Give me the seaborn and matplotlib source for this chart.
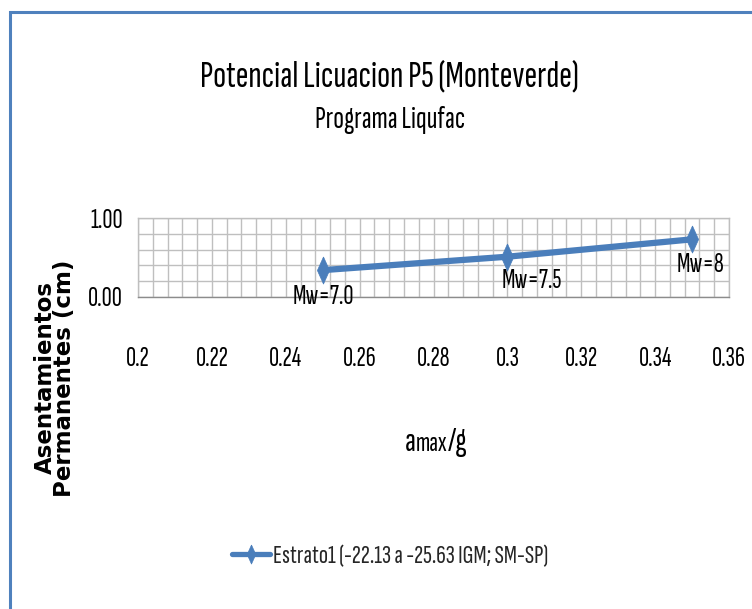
import matplotlib
matplotlib.use("Agg")
import matplotlib.pyplot as plt
import matplotlib.ticker as mticker
from matplotlib.patches import Rectangle
import seaborn as sns
import pandas as pd

# Data
amax_g = [0.25, 0.30, 0.35]
asentamientos = [0.34, 0.51, 0.73]
magnitudes = ["Mw=7.0", "Mw=7.5", "Mw=8"]
serie = "Estrato1 (-22.13 a -25.63 IGM; SM-SP)"

titulo = "Potencial Licuacion P5 (Monteverde)"
subtitulo = "Programa Liqufac"
etiqueta_y = "Asentamientos\nPermanentes (cm)"
etiqueta_x = ["a", "max", "/g"]

df = pd.DataFrame({"amax_g": amax_g, "asentamiento": asentamientos,
                   "serie": [serie] * len(amax_g)})

sns.set_theme(style="white")
FONT = "Sofia Sans Extra Condensed"
plt.rcParams["font.family"] = [FONT, "DejaVu Sans"]

W, H = 752, 609
fig = plt.figure(figsize=(W / 100, H / 100), dpi=100)
fig.patch.set_facecolor("white")
renderer = fig.canvas.get_renderer()


def fit_width(txt, target_px):
    """Rescale a text's font size so its rendered width is target_px."""
    w = txt.get_window_extent(renderer).width
    txt.set_fontsize(txt.get_fontsize() * target_px / w)


# tall, narrow diamond marker
DIAMANTE = [(0, 1), (0.45, 0), (0, -1), (-0.45, 0), (0, 1)]

# chart frame (extends past the right and bottom edges)
fig.patches.append(Rectangle((10 / W, -0.05), 1.1, 1 - 11.5 / H + 0.05,
                             transform=fig.transFigure, fill=False,
                             edgecolor="#4F81BD", linewidth=2.2, zorder=0))

ax = fig.add_axes([138 / W, 1 - 297 / H, (729 - 138) / W, (297 - 218) / H])

BLUE = "#4A7EBB"
sns.lineplot(data=df, x="amax_g", y="asentamiento", hue="serie",
             palette=[BLUE], marker=DIAMANTE, markersize=19.5, linewidth=4.5,
             markeredgecolor=BLUE, markeredgewidth=0.5, legend=False,
             ax=ax, zorder=3)

ax.set_xlim(0.2, 0.36)
ax.set_ylim(0.0, 1.0)
ax.xaxis.set_major_locator(mticker.MultipleLocator(0.02))
ax.xaxis.set_minor_locator(mticker.MultipleLocator(0.004))
ax.yaxis.set_major_locator(mticker.MultipleLocator(1.0))
ax.yaxis.set_minor_locator(mticker.MultipleLocator(0.2))
ax.xaxis.set_major_formatter(mticker.FuncFormatter(lambda v, p: f"{v:g}"))
ax.yaxis.set_major_formatter(mticker.FormatStrFormatter("%.2f"))

GRID = "#BFBFBF"
ax.grid(True, which="both", color=GRID, linewidth=1.0)
for s in ax.spines.values():
    s.set_color(GRID)
    s.set_linewidth(1.0)
ax.spines["bottom"].set_color("#8C8C8C")

ax.tick_params(axis="x", which="major", direction="out", length=9,
               width=1, color="#8C8C8C", pad=27, labelsize=20,
               labelcolor="#000000")
ax.tick_params(axis="y", which="major", direction="out", length=4,
               width=1, color="#8C8C8C", pad=7, labelsize=20,
               labelcolor="#000000")
ax.tick_params(which="minor", length=0)
ax.set_xlabel("")
ax.set_ylabel("")

# point labels below each marker
offsets_px = [(1, -27), (24, -24), (8, -26)]
for xv, yv, txt, (dx, dy) in zip(amax_g, asentamientos, magnitudes, offsets_px):
    ax.annotate(txt, (xv, yv), xytext=(dx, dy), textcoords="offset pixels",
                ha="center", va="center", fontsize=20, color="#000000",
                zorder=4)

# titles
t1 = fig.text(389 / W, 1 - 86 / H, titulo, ha="center", va="baseline",
              fontsize=24, color="#000000")
fit_width(t1, 378)
t2 = fig.text(390 / W, 1 - 128 / H, subtitulo, ha="center", va="baseline",
              fontsize=19, color="#000000")
fit_width(t2, 150)

# x axis label: "a" followed by a smaller "max", then "/g"
xl_sizes = [25, 20, 25]
x_cursor = 405
for part, fs in zip(etiqueta_x, xl_sizes):
    t = fig.text(x_cursor / W, (H - 451) / H, part, ha="left",
                 va="baseline", fontsize=fs, fontweight="bold",
                 color="#000000")
    x_cursor += t.get_window_extent(renderer).width

# y axis label, bold and widely set
fig.text(55 / W, 1 - 378 / H, etiqueta_y, ha="center", va="center",
         rotation=90, multialignment="center", fontsize=16.5,
         fontfamily="DejaVu Sans", fontweight="bold",
         linespacing=0.78, color="#000000")

# legend
handle = plt.Line2D([], [], color=BLUE, linewidth=3.8, marker=DIAMANTE,
                    markersize=13.7, markeredgecolor=BLUE, markeredgewidth=0.5)
fig.legend([handle], [serie], loc="center left",
           bbox_to_anchor=(232 / W, 1 - 556 / H),
           frameon=False, fontsize=19.5, handlelength=1.4, handletextpad=0.12,
           borderpad=0, borderaxespad=0)

fig.savefig("out.png", dpi=100, facecolor="white")
